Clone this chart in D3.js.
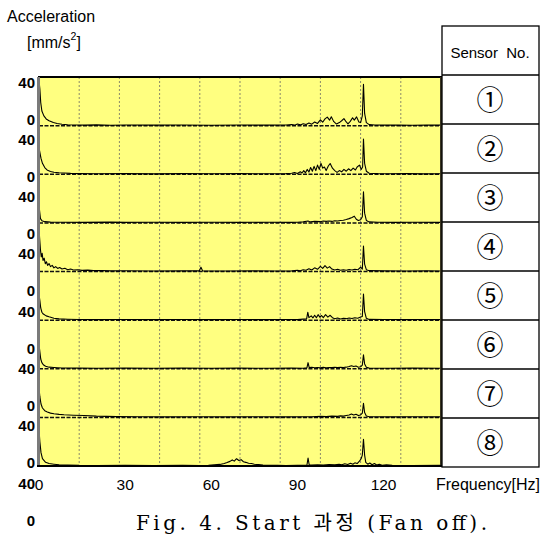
<!DOCTYPE html>
<html>
<head>
<meta charset="utf-8">
<script src="https://cdn.jsdelivr.net/npm/d3@7"></script>
<style>
  body { margin: 0; background: #fff; }
  svg { display: block; }
  text { font-family: "Liberation Sans", Arial, sans-serif; fill: #000; }
</style>
</head>
<body>
<div id="chart"></div>
<script>
/* DATA */
const sensors = ["①", "②", "③", "④", "⑤", "⑥", "⑦", "⑧"];
const xTicks = [0, 30, 60, 90, 120];
const yTickLabels = [40, 0];

// [frequency Hz, acceleration mm/s2]
const sensor1 = [[0,37],[0.3,30],[0.6,19],[1,12],[1.7,8],[2.5,5.5],[3.5,4],[5,2.5],[6.3,1.7],[8,1.1],[10,0.7],[13,0.5],[16,0.4],[20,0.6],[25,0.3],[30,0.5],[40,0.4],[50,0.5],[60,0.3],[70,0.5],[80,0.4],
  [86,0.5],[88,0.9],[89,0.4],[90,1.3],[91,0.6],[92,1.6],[93,0.9],[94,2.2],[95,1.2],[96,3],[97,1.8],[98,4.8],[98.8,2.8],[99.6,5.5],[100.4,7],[101.2,4.5],[101.8,7.3],[102.6,3.5],[103.6,1.3],[104.6,2.5],[105.4,4],[106.2,5.8],[107,3],[107.6,1.5],[108.4,3.5],[109.2,6.5],[109.8,4.5],[110.6,7.2],[111.4,3],[112,2.5],[112.6,8],[113,34],[113.4,10],[114,2.5],[115,0.8],[117,0.5],[120,0.4],[125,0.5],[130,0.3],[135,0.5],[140,0.4]];
const sensor2 = [[0,22],[0.3,18],[0.7,13],[1.2,9],[2,5.5],[2.8,3.5],[4,2.3],[5.2,1.6],[7,1.2],[8.7,1],[11,0.7],[14,0.5],[20,0.4],[30,0.5],[40,0.3],[50,0.5],[60,0.4],[70,0.5],[80,0.4],
  [86,0.5],[88,0.8],[89,1.5],[90,0.7],[91,2],[91.6,1],[92.2,3],[92.8,1.2],[93.4,4],[94,1.8],[94.6,5.5],[95.2,2.5],[95.8,6.5],[96.4,3],[97,7.5],[97.6,4],[98.2,9],[98.8,5],[99.4,6],[100,3],[100.8,7],[101.4,8.8],[102.2,5],[103,3],[103.8,1.5],[104.6,3],[105.4,2],[106.2,4],[107,2.5],[107.8,4.5],[108.6,3],[109.4,5],[110.2,3.5],[110.8,6],[111.6,7.5],[112.2,4],[112.7,6],[113,29],[113.4,9],[114,2.5],[115,0.8],[118,0.5],[122,0.4],[128,0.5],[134,0.3],[140,0.4]];
const sensor3 = [[0,16],[0.2,10],[0.5,3.5],[1,1.8],[2,1],[4,0.6],[8,0.5],[15,0.4],[25,0.6],[30,0.4],[40,0.5],[50,0.4],[60,0.5],[70,0.4],[80,0.5],[88,0.4],
  [90,0.5],[92,0.8],[93.7,1.5],[94.5,0.8],[96,1.2],[98,1],[99,1.6],[100,1.2],[101,1.5],[102,1.2],[103,1.8],[104,1.5],[105,2],[106,2.2],[107,2.8],[108,3.5],[109,4.5],[109.8,5.5],[110.5,3],[111.2,2],[112,2.5],[112.6,5],[113,25.5],[113.4,8],[114,2],[115,0.8],[118,0.5],[124,0.4],[130,0.5],[140,0.4]];
const sensor4 = [[0,36],[0.2,28],[0.5,18],[0.8,12],[1.1,15],[1.4,9],[1.8,11],[2.2,6.5],[2.6,8],[3,5],[3.5,6.5],[4,4],[4.6,5],[5.2,3],[5.8,4],[6.5,2.5],[7.2,3.3],[8,2],[9,2.6],[10,1.5],[11,2],[12,1.2],[13.5,1.5],[15,0.9],[17,1.1],[19,0.7],[22,0.8],[25,0.5],[30,0.6],[40,0.4],[50,0.5],
  [55.8,0.5],[56.4,3.5],[57,0.5],[65,0.4],[75,0.5],[82,0.4],
  [88,0.5],[90,1],[91,0.6],[92,1.5],[93,1],[94,2.2],[95,1.2],[96,3],[97,1.8],[98,4.2],[98.8,2.5],[99.6,4.8],[100.4,2.8],[101.2,4],[102,2],[103,1.2],[104,1.8],[105,1],[106,1.4],[107,1],[108,1.6],[109,1.2],[110,1.8],[111,1.4],[112,3.5],[112.6,2],[113,21],[113.4,6],[114,1.5],[115,0.7],[120,0.5],[128,0.4],[135,0.5],[140,0.4]];
const sensor5 = [[0,21],[0.3,16],[0.6,10],[1,6.5],[1.5,5],[2.5,3.5],[3.5,2.7],[5.2,1.5],[7,1],[10,0.7],[14,0.5],[20,0.4],[30,0.5],[40,0.4],[50,0.5],[60,0.4],[70,0.5],[80,0.4],[86,0.5],
  [90,0.4],[92,0.8],[93.2,1],[93.6,6.5],[94,2],[94.8,3.5],[95.4,1.8],[96,4],[96.6,2],[97.2,4.5],[97.8,2.5],[98.4,3.8],[99,2],[99.8,4.5],[100.6,2.5],[101.4,4],[102.2,2],[103,1.2],[104,1.8],[105,1],[106,1.6],[107,1.2],[108,1.8],[109,1.4],[110,2],[111,1.6],[112,2.5],[112.6,3],[113,21.5],[113.4,7],[114,1.5],[115,0.6],[120,0.5],[128,0.4],[134,0.5],[140,0.4]];
const sensor6 = [[0,20],[0.3,14],[0.6,8],[1,5],[1.5,3.3],[2.3,2],[3.5,1.3],[5.2,1],[8,0.6],[14,0.5],[20,0.4],[30,0.5],[40,0.4],[50,0.5],[60,0.4],[70,0.5],[80,0.4],[88,0.5],
  [92,0.4],[93.3,0.8],[93.7,5],[94.1,1],[95,1.2],[96,0.8],[97,1],[98,0.7],[99,1.1],[100,0.8],[101,1],[102,0.9],[103,1.1],[104,1],[105,1.2],[106,1],[107,1.3],[108,1.8],[108.8,2.5],[109.6,1.8],[110.4,2.2],[111.2,1.3],[112,1.6],[112.6,3],[113,11.5],[113.4,4],[114,1.2],[115,0.5],[122,0.4],[130,0.5],[140,0.4]];
const sensor7 = [[0,24],[0.3,17],[0.7,11],[1.2,7.7],[2,5.5],[2.9,4.4],[4,3.5],[5.2,3],[7,2.5],[8.7,2.2],[12,1.8],[15.7,1.5],[20,1],[27,0.6],[35,0.5],[45,0.4],[55,0.5],[65,0.4],[75,0.5],[85,0.4],
  [95,0.5],[98,0.8],[100,0.6],[102,1],[104,0.8],[105,1.2],[106,1],[107,1.5],[108,2],[108.8,2.8],[109.6,2],[110.4,2.6],[111.2,1.5],[112,2],[112.6,3.5],[113,11.5],[113.4,4],[114,1.2],[115,0.5],[122,0.4],[130,0.5],[140,0.4]];
const sensor8 = [[0,30],[0.3,20],[0.7,11],[1.2,6],[2.3,3],[3.5,2],[5.2,1.5],[7,1],[10,0.8],[14,0.5],[20,0.4],[30,0.5],[40,0.4],[50,0.5],
  [56,0.4],[59,0.6],[61,0.9],[63,1.3],[64.5,2],[65.5,2.8],[66.5,3.8],[67.3,5],[68,4],[68.8,6],[69.6,4.5],[70.4,5.2],[71.2,3.5],[72,3],[73,2.2],[74,2],[75,1.4],[76.5,1.1],[78,0.8],[80,0.6],[83,0.5],[86,0.4],[90,0.5],
  [93.3,0.6],[93.7,6.6],[94.1,1],[95,0.7],[97,1],[99,0.8],[101,1.2],[103,1],[104.5,1.5],[105.5,1],[106.5,1.8],[107.5,1.3],[108.5,2.2],[109.3,1.5],[110,2.6],[110.8,2],[111.6,4],[112.2,6],[112.6,9],[113,22],[113.4,9],[113.8,3],[114.5,1.5],[115.2,2.5],[116,1],[116.8,2],[117.6,0.8],[118.5,1.5],[119.5,0.6],[121,1],[123,0.5],[130,0.4],[140,0.5]];
const series = [sensor1, sensor2, sensor3, sensor4, sensor5, sensor6, sensor7, sensor8];

/* LAYOUT */
const width = 541, height = 536;
const plot = { left: 39, right: 441, top: 77, bottom: 466 };

const svg = d3.select("#chart").append("svg")
  .attr("width", width)
  .attr("height", height);

// scales
const x = d3.scaleLinear().domain([0, 140]).range([plot.left, plot.right]);
const panel = d3.scaleBand().domain(sensors).range([plot.top, plot.bottom]);
const row = d3.scaleBand().domain(sensors).range([75, 467]);
// the y labels in the figure sit on their own (shifted) spacing
const labelRow = d3.scaleLinear().domain([0, 7]).range([82, 483]);
const labelOffset = d3.scaleLinear().domain([40, 0]).range([0, 37]);

// yellow background
svg.append("rect")
  .attr("x", plot.left).attr("y", plot.top)
  .attr("width", plot.right - plot.left).attr("height", plot.bottom - plot.top)
  .attr("fill", "#ffff80");

// vertical dotted grid
svg.append("g")
  .selectAll("line")
  .data(d3.range(14, 140, 14))
  .join("line")
  .attr("x1", d => x(d)).attr("x2", d => x(d))
  .attr("y1", plot.top).attr("y2", plot.bottom)
  .attr("stroke", "#8a8a6a")
  .attr("stroke-width", 1)
  .attr("stroke-dasharray", "2,2");

// panel baselines
svg.append("g")
  .selectAll("line")
  .data(sensors)
  .join("line")
  .attr("x1", plot.left).attr("x2", plot.right)
  .attr("y1", d => panel(d) + panel.bandwidth())
  .attr("y2", d => panel(d) + panel.bandwidth())
  .attr("stroke", "#111")
  .attr("stroke-width", 1.5)
  .attr("stroke-dasharray", "4,1.5");

// traces
sensors.forEach((s, i) => {
  const y = d3.scaleLinear().domain([0, 40])
    .range([panel(s) + panel.bandwidth(), panel(s)]);
  const line = d3.line().x(d => x(d[0])).y(d => y(d[1]));
  svg.append("path")
    .datum(series[i])
    .attr("d", line)
    .attr("fill", "none")
    .attr("stroke", "#000")
    .attr("stroke-width", 1.1)
    .attr("stroke-linejoin", "round");
});

// frame
svg.append("line")
  .attr("x1", plot.left - 1).attr("x2", plot.right + 1)
  .attr("y1", plot.top).attr("y2", plot.top)
  .attr("stroke", "#000").attr("stroke-width", 2);
svg.append("line")
  .attr("x1", plot.left - 0.5).attr("x2", plot.left - 0.5)
  .attr("y1", plot.top).attr("y2", plot.bottom + 1)
  .attr("stroke", "#7a7a7a").attr("stroke-width", 3);
svg.append("line")
  .attr("x1", plot.right).attr("x2", plot.right)
  .attr("y1", plot.top).attr("y2", plot.bottom + 1)
  .attr("stroke", "#3a3520").attr("stroke-width", 2);
svg.append("line")
  .attr("x1", plot.left - 2).attr("x2", plot.right + 1)
  .attr("y1", plot.bottom).attr("y2", plot.bottom)
  .attr("stroke", "#000").attr("stroke-width", 1.8);

// y labels (40 / 0 for each sensor)
const yLab = svg.append("g");
sensors.forEach((s, i) => {
  yLab.selectAll(null)
    .data(yTickLabels)
    .join("text")
    .attr("x", 35)
    .attr("y", d => labelRow(i) + labelOffset(d))
    .attr("text-anchor", "end")
    .attr("dominant-baseline", "central")
    .attr("font-size", 15)
    .attr("font-weight", "bold")
    .text(d => d);
});

// x labels
svg.append("g")
  .selectAll("text")
  .data(xTicks)
  .join("text")
  .attr("x", d => x(d))
  .attr("y", 484)
  .attr("text-anchor", "middle")
  .attr("dominant-baseline", "central")
  .attr("font-size", 15.5)
  .text(d => d);

svg.append("text")
  .attr("x", 540).attr("y", 484)
  .attr("text-anchor", "end")
  .attr("dominant-baseline", "central")
  .attr("font-size", 16)
  .text("Frequency[Hz]");

// axis title
svg.append("text")
  .attr("x", 7).attr("y", 16)
  .attr("dominant-baseline", "central")
  .attr("font-size", 16)
  .text("Acceleration");
const unit = svg.append("text")
  .attr("x", 27).attr("y", 42)
  .attr("dominant-baseline", "central")
  .attr("font-size", 16);
unit.append("tspan").text("[mm/s");
unit.append("tspan").attr("font-size", 10.5).attr("dy", -6).text("2");
unit.append("tspan").attr("dy", 6).text("]");

// sensor table
const table = svg.append("g");
table.append("rect")
  .attr("x", 442).attr("y", 26)
  .attr("width", 97).attr("height", 441)
  .attr("fill", "#fff")
  .attr("stroke", "#000").attr("stroke-width", 1.3);
table.append("text")
  .attr("x", 490).attr("y", 52)
  .attr("text-anchor", "middle")
  .attr("dominant-baseline", "central")
  .attr("font-size", 15)
  .attr("style", "white-space:pre")
  .text("Sensor  No.");
table.selectAll("line")
  .data(sensors)
  .join("line")
  .attr("x1", 442).attr("x2", 539)
  .attr("y1", d => row(d)).attr("y2", d => row(d))
  .attr("stroke", "#000").attr("stroke-width", 1.3);
table.selectAll("text.num")
  .data(sensors)
  .join("text")
  .attr("class", "num")
  .attr("x", 490)
  .attr("y", d => row(d) + row.bandwidth() / 2 + 1)
  .attr("text-anchor", "middle")
  .attr("dominant-baseline", "central")
  .attr("font-size", 27)
  .style("font-family", "'DejaVu Serif', 'Noto Sans CJK KR', serif")
  .text(d => d);

// caption
svg.append("text")
  .attr("x", 136).attr("y", 523)
  .attr("dominant-baseline", "central")
  .attr("font-size", 20)
  .attr("textLength", 351)
  .attr("lengthAdjust", "spacing")
  .style("font-family", "'DejaVu Serif', 'Noto Sans CJK KR', serif")
  .text("Fig. 4. Start 과정 (Fan off).");
</script>
</body>
</html>
